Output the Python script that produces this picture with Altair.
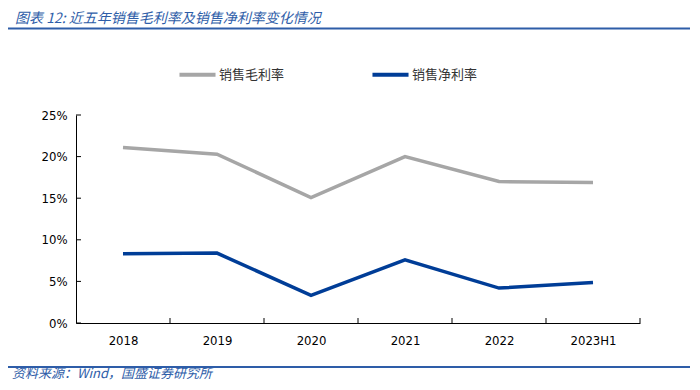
import altair as alt
import pandas as pd

categories = ["2018", "2019", "2020", "2021", "2022", "2023H1"]
gross_margin = [0.2108, 0.2029, 0.1508, 0.2000, 0.1700, 0.1690]
net_margin = [0.0832, 0.0840, 0.0331, 0.0760, 0.0420, 0.0488]
series_names = ["销售毛利率", "销售净利率"]
y_ticks = [0, 0.05, 0.10, 0.15, 0.20, 0.25]
title_text = "图表 12:  近五年销售毛利率及销售净利率变化情况"
source_text = "资料来源：Wind，国盛证券研究所"

rows = []
for c, g, n in zip(categories, gross_margin, net_margin):
    rows.append({"year": c, "series": series_names[0], "value": g})
    rows.append({"year": c, "series": series_names[1], "value": n})
df = pd.DataFrame(rows)

W, H = 564, 208
BLUE = "#2E5DA8"
AXFONT = "DejaVu Sans Condensed"

xscale = alt.Scale(type="point", domain=categories, padding=0.5)
yscale = alt.Scale(domain=[0, 0.25])

lines = alt.Chart(df).mark_line(strokeWidth=3.5).encode(
    x=alt.X("year:N", scale=xscale, sort=categories,
            axis=alt.Axis(title=None, labelAngle=0, ticks=False, domainColor="#000",
                          domainWidth=1, labelFont=AXFONT, labelFontSize=13,
                          labelColor="#000", labelPadding=11, grid=False)),
    y=alt.Y("value:Q", scale=yscale,
            axis=alt.Axis(title=None, values=y_ticks, format=".0%", ticks=False,
                          domainColor="#000", domainWidth=1, labelFont=AXFONT,
                          labelFontSize=13, labelColor="#000", labelPadding=9,
                          grid=False)),
    color=alt.Color("series:N", sort=series_names,
                    scale=alt.Scale(domain=series_names, range=["#A6A6A6", "#003D97"]),
                    legend=alt.Legend(title=None, orient="none", direction="horizontal",
                                      legendX=101, legendY=-61, symbolType="stroke",
                                      symbolSize=1300, symbolStrokeWidth=4,
                                      labelFont="Noto Sans CJK SC", labelFontSize=13,
                                      labelColor="#333", labelOffset=1, columnPadding=79)),
)

tick_df = pd.DataFrame({"year": categories})
xticks = alt.Chart(tick_df).mark_rule(color="#000", strokeWidth=1, xOffset=47).encode(
    x=alt.X("year:N", scale=xscale, sort=categories),
    y=alt.value(H - 5), y2=alt.value(H),
)

ytick_df = pd.DataFrame({"v": y_ticks})
yticks = alt.Chart(ytick_df).mark_rule(color="#000", strokeWidth=1).encode(
    y=alt.Y("v:Q", scale=yscale),
    x=alt.value(0), x2=alt.value(5),
)

deco = pd.DataFrame({"a": [0]})
title = alt.Chart(deco).mark_text(
    text=title_text, align="left", baseline="alphabetic", fontStyle="italic",
    font="Noto Sans CJK SC", fontSize=14, color=BLUE,
).encode(x=alt.value(-61), y=alt.value(-92.5))

top_line = alt.Chart(deco).mark_rect(color=BLUE).encode(
    x=alt.value(-71), x2=alt.value(614), y=alt.value(-87.5), y2=alt.value(-85.5))
bottom_line = alt.Chart(deco).mark_rect(color=BLUE).encode(
    x=alt.value(-71), x2=alt.value(614), y=alt.value(251), y2=alt.value(253))

source = alt.Chart(deco).mark_text(
    text=source_text, align="left", baseline="alphabetic", fontStyle="italic",
    font="Noto Sans CJK SC", fontSize=13, color=BLUE,
).encode(x=alt.value(-64), y=alt.value(263))

chart = alt.layer(lines, xticks, yticks, title, top_line, bottom_line, source).properties(
    width=W, height=H,
    background="white",
    autosize=alt.AutoSizeParams(type="none"),
    padding={"left": 68, "top": 107, "right": 52, "bottom": 59},
).configure_view(stroke=None)

chart.save("out.html", embed_options={"renderer": "svg", "actions": False})
